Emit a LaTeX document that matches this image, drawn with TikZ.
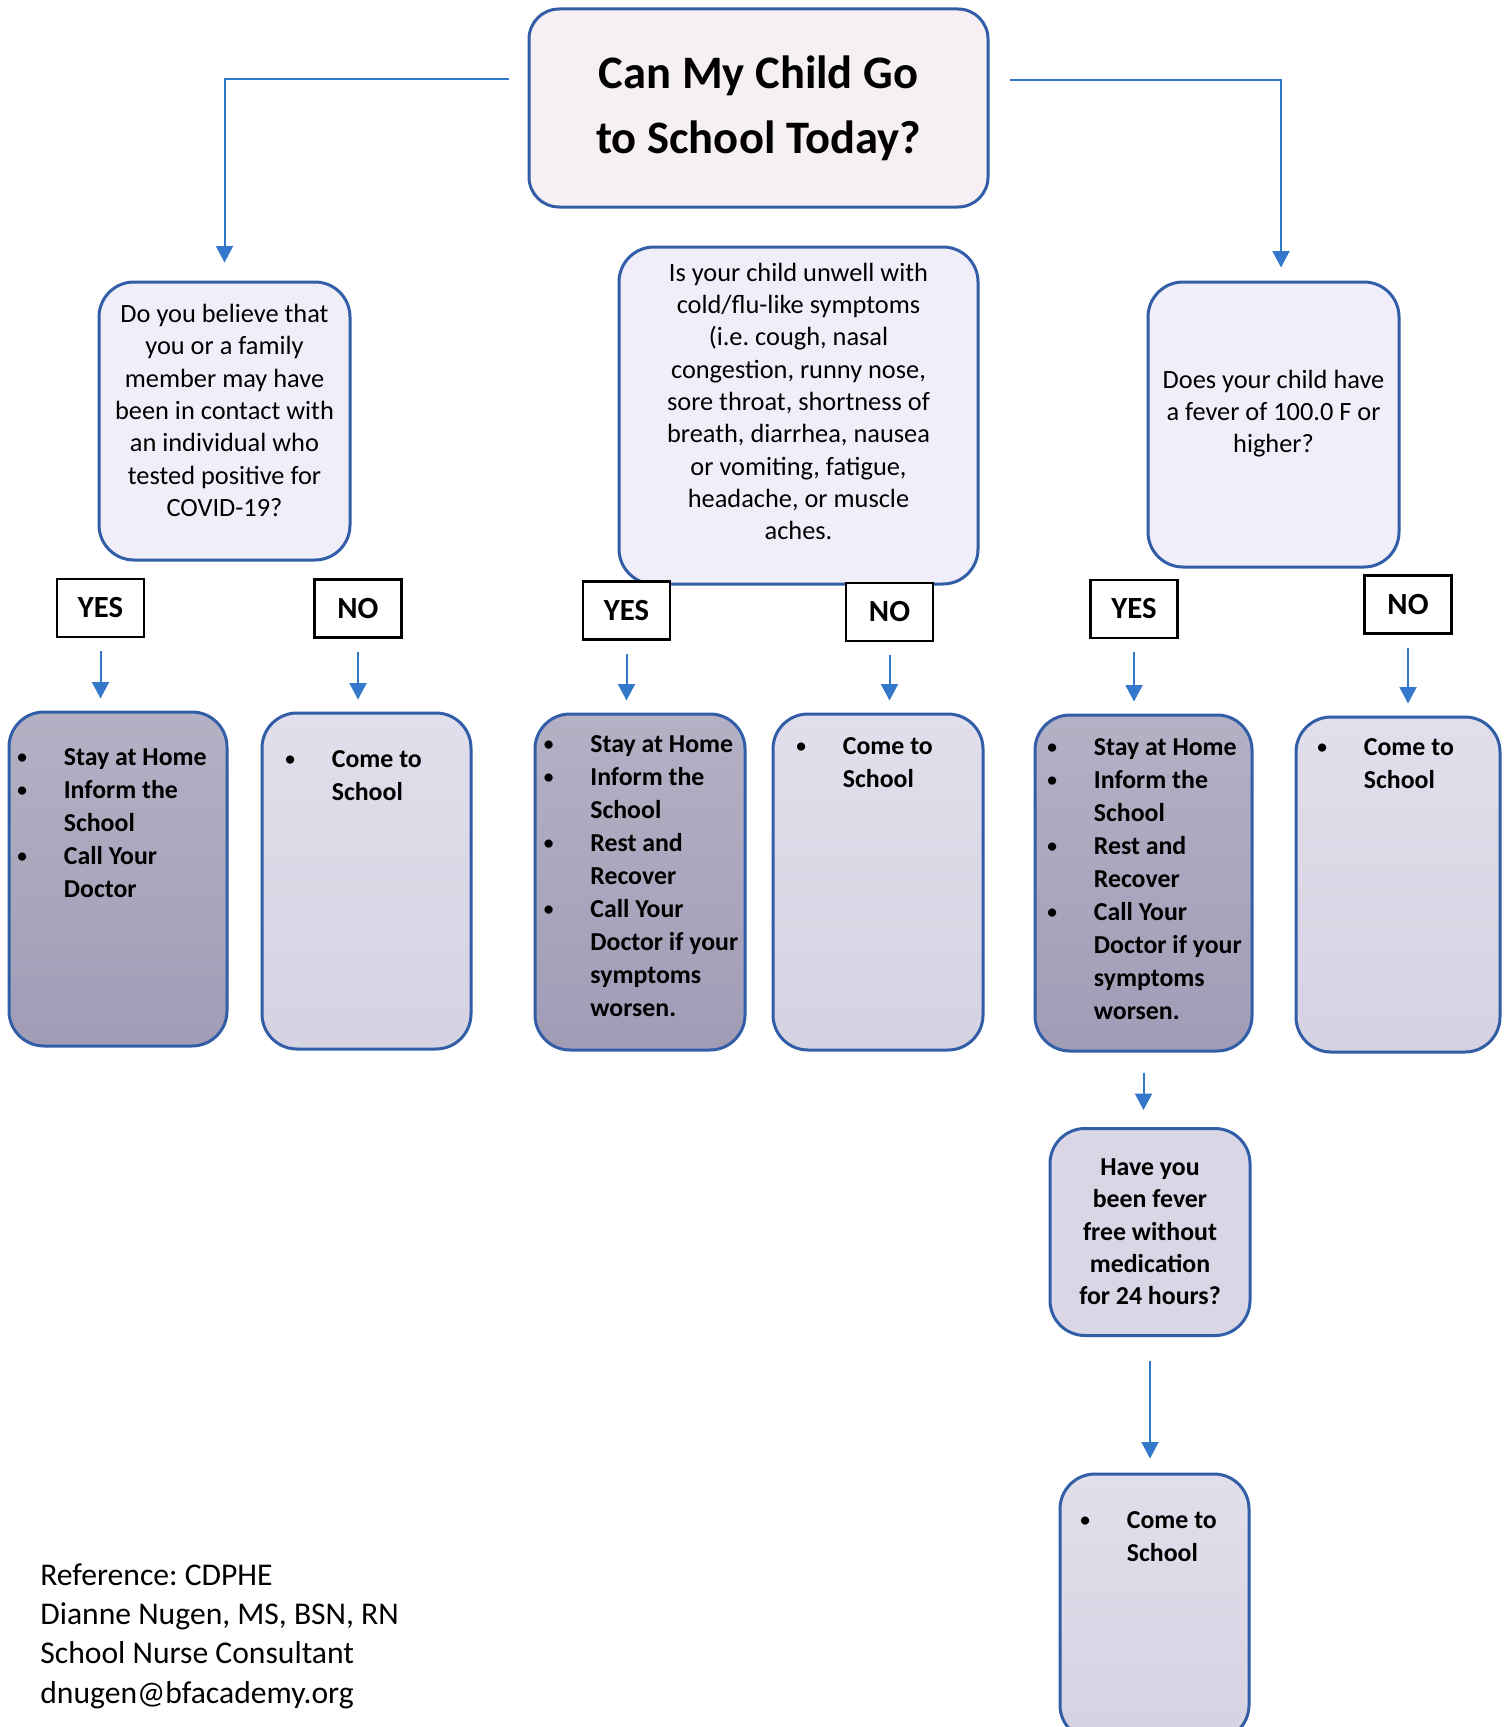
\documentclass[tikz,border=0pt]{standalone}
\usepackage{fontspec}
\setmainfont{Carlito}
\usetikzlibrary{arrows.meta,calc,positioning}
\definecolor{boxblue}{RGB}{50,94,168}
\definecolor{arrowblue}{RGB}{52,120,204}
\definecolor{titlefill}{RGB}{246,240,245}
\definecolor{qfill}{RGB}{240,238,249}
\definecolor{qdark}{RGB}{217,215,230}
\definecolor{darktop}{RGB}{180,177,197}
\definecolor{darkbot}{RGB}{160,156,182}
\definecolor{lighttop}{RGB}{225,223,235}
\definecolor{lightbot}{RGB}{213,210,226}
\tikzset{
  sz/.style 2 args={minimum width={#1*0.2mm}, minimum height={#2*0.2mm}},
  rbox/.style={draw=boxblue, line width=0.6mm, rounded corners=7mm, inner sep=0pt},
  titlebox/.style={rbox, rounded corners=6mm, fill=titlefill, align=center, font=\bfseries\fontsize{26.5}{37}\selectfont},
  qbox/.style={rbox, fill=qfill, align=center, font=\fontsize{15}{18.4}\selectfont},
  textup/.style={text depth=#1},
  qdarkbox/.style={rbox, fill=qdark, align=center, font=\bfseries\fontsize{14.7}{18.4}\selectfont},
  darkbox/.style={rbox, top color=darktop, bottom color=darkbot},
  lightbox/.style={rbox, top color=lighttop, bottom color=lightbot},
  answer/.style={draw=black, line width=0.45mm, fill=white, sz={87}{58}, font=\bfseries\fontsize{17.5}{21}\selectfont},
  listtext/.style={anchor=north west, inner sep=0pt, align=left, font=\bfseries\fontsize{14.7}{18.8}\selectfont},
  reftext/.style={anchor=west, inner sep=0pt, align=left, font=\fontsize{18}{22.4}\selectfont},
  link/.style={draw=arrowblue, line width=0.4mm, -{Triangle[width=3.4mm,length=3.3mm]}},
  shortlink/.style={link, shorten <=2.6mm, shorten >=2.4mm}
}
\newcommand{\bul}{\raisebox{1.2pt}{\scalebox{0.75}{\textbullet}}}
\newcommand{\blist}[1]{\begin{tabular}{@{}p{9.3mm}@{}l@{}}#1\end{tabular}}
\frenchspacing
\begin{document}
\begin{tikzpicture}[x=0.2mm, y=-0.2mm]
\useasboundingbox (0,0) rectangle (1509,1727);
\fill[white] (0,0) rectangle (1509,1727);
\node[titlebox, sz={459}{198}] (title) at (758.5,108) {Can My Child Go\\to School Today?};
\node[qbox, textup=4.3mm, sz={251}{278}] (q1) at (224.5,421) {Do you believe that\\you or a family\\member may have\\been in contact with\\an individual who\\tested positive for\\COVID-19?};
\node[qbox, textup=5.7mm, sz={359}{337}] (q2) at (798.5,415.5) {Is your child unwell with\\cold/flu-like symptoms\\(i.e. cough, nasal\\congestion, runny nose,\\sore throat, shortness of\\breath, diarrhea, nausea\\or vomiting, fatigue,\\headache, or muscle\\aches.};
\node[qbox, textup=5.3mm, sz={251}{285}] (q3) at (1273.5,424.5) {Does your child have\\a fever of 100.0 F or\\higher?};
\node[answer] (yes1) at (100.5,608) {YES};
\node[answer] (no1) at (358,608.5) {NO};
\node[answer] (yes2) at (626.5,610.5) {YES};
\node[answer] (no2) at (889.5,612) {NO};
\node[answer] (yes3) at (1134,609) {YES};
\node[answer] (no3) at (1408,604.5) {NO};
\node[darkbox, sz={218}{334}] (r1) at (118,879) {};
\node[lightbox, sz={209}{336}] (r2) at (366.5,881) {};
\node[darkbox, sz={210}{336}] (r3) at (640,882) {};
\node[lightbox, sz={210}{336}] (r4) at (878,882) {};
\node[darkbox, sz={217}{336}] (r5) at (1143.5,883) {};
\node[lightbox, sz={204}{335}] (r6) at (1398,884.5) {};
\node[qdarkbox, sz={200}{207}] (q4) at (1150,1232) {Have you\\been fever\\free without\\medication\\for 24 hours?};
\node[lightbox, sz={189}{266}] (r7) at (1154.5,1607) {};
\node[listtext] (r1t) at ($(r1.north west)+(9.5,31.5)$) {\blist{\bul & Stay at Home\\ \bul & Inform the\\ & School\\ \bul & Call Your\\ & Doctor}};
\node[listtext] (r2t) at ($(r2.north west)+(24.5,32.5)$) {\blist{\bul & Come to\\ & School}};
\node[listtext] (r3t) at ($(r3.north west)+(10,16.5)$) {\blist{\bul & Stay at Home\\ \bul & Inform the\\ & School\\ \bul & Rest and\\ & Recover\\ \bul & Call Your\\ & Doctor if your\\ & symptoms\\ & worsen.}};
\node[listtext] (r4t) at ($(r4.north west)+(24.5,18.5)$) {\blist{\bul & Come to\\ & School}};
\node[listtext] (r5t) at ($(r5.north west)+(13.5,18.5)$) {\blist{\bul & Stay at Home\\ \bul & Inform the\\ & School\\ \bul & Rest and\\ & Recover\\ \bul & Call Your\\ & Doctor if your\\ & symptoms\\ & worsen.}};
\node[listtext] (r6t) at ($(r6.north west)+(22.5,16.5)$) {\blist{\bul & Come to\\ & School}};
\node[listtext] (r7t) at ($(r7.north west)+(21.5,32.5)$) {\blist{\bul & Come to\\ & School}};
\node[reftext] (ref) at (40,1636) {Reference: CDPHE\\Dianne Nugen, MS, BSN, RN\\School Nurse Consultant\\dnugen@bfacademy.org};
\draw[link, shorten >=3.6mm] ($(title.west)+(-19,-29)$) -| (q1.north);
\draw[link, shorten >=2.6mm] ($(title.east)+(20,-28)$) -| ($(q3.north)+(7.5,0)$);
\foreach \a/\b in {yes1/r1, no1/r2, yes2/r3, no2/r4, yes3/r5, no3/r6}
  \draw[shortlink] (\a.south) -- (\a.south |- \b.north);
\draw[shortlink, shorten <=4mm, shorten >=3.4mm] (r5.south) -- (r5.south |- q4.north);
\draw[shortlink, shorten <=4.8mm, shorten >=2.8mm] (q4.south) -- (q4.south |- r7.north);
\end{tikzpicture}
\end{document}
